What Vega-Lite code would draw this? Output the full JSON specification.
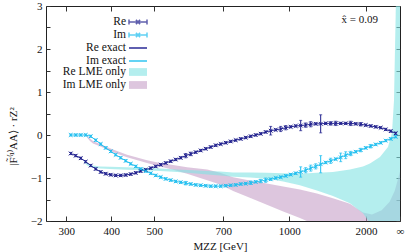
{
  "$schema": "https://vega.github.io/schema/vega-lite/v6.json",
  "width": 354,
  "height": 215,
  "autosize": "none",
  "padding": {"left": 46, "top": 6, "right": 7, "bottom": 31},
  "config": {
    "font": "Liberation Serif",
    "view": {"stroke": "#222", "strokeWidth": 1},
    "text": {"font": "Liberation Serif"},
    "axis": {"domain": false, "grid": false, "tickColor": "#333", "tickWidth": 1, "labelColor": "#111", "labelFont": "Liberation Serif", "titleFont": "Liberation Serif", "labelFontSize": 11, "titleFontSize": 11, "titleColor": "#111", "titleFontWeight": "normal", "labelFlush": false, "labelOverlap": false},
    "legend": {"labelFont": "Liberation Serif", "titleFont": "Liberation Serif", "labelFontSize": 11.5, "labelColor": "#111", "padding": 0, "rowPadding": -1.5, "symbolSize": 144, "labelAlign": "right", "labelOffset": -19, "orient": "none"}
  },
  "datasets": {
    "pts": [
      {"s":"Re","t":"Re exact","u":0.0132,"v":-0.43,"e":0.025},{"s":"Re","t":"Re exact","u":0.0282,"v":-0.48,"e":0.025},{"s":"Re","t":"Re exact","u":0.0432,"v":-0.54,"e":0.025},{"s":"Re","t":"Re exact","u":0.0581,"v":-0.62,"e":0.025},{"s":"Re","t":"Re exact","u":0.0731,"v":-0.71,"e":0.025},{"s":"Re","t":"Re exact","u":0.0881,"v":-0.79,"e":0.025},{"s":"Re","t":"Re exact","u":0.1031,"v":-0.86,"e":0.025},{"s":"Re","t":"Re exact","u":0.1181,"v":-0.9,"e":0.025},{"s":"Re","t":"Re exact","u":0.1331,"v":-0.925,"e":0.025},{"s":"Re","t":"Re exact","u":0.148,"v":-0.94,"e":0.025},
      {"s":"Re","t":"Re exact","u":0.163,"v":-0.94,"e":0.025},{"s":"Re","t":"Re exact","u":0.178,"v":-0.93,"e":0.025},{"s":"Re","t":"Re exact","u":0.193,"v":-0.91,"e":0.025},{"s":"Re","t":"Re exact","u":0.208,"v":-0.88,"e":0.025},{"s":"Re","t":"Re exact","u":0.2229,"v":-0.84,"e":0.025},{"s":"Re","t":"Re exact","u":0.2379,"v":-0.81,"e":0.025},{"s":"Re","t":"Re exact","u":0.2529,"v":-0.77,"e":0.025},{"s":"Re","t":"Re exact","u":0.2679,"v":-0.73,"e":0.025},{"s":"Re","t":"Re exact","u":0.2829,"v":-0.69,"e":0.025},{"s":"Re","t":"Re exact","u":0.2979,"v":-0.65,"e":0.025},
      {"s":"Re","t":"Re exact","u":0.3128,"v":-0.61,"e":0.025},{"s":"Re","t":"Re exact","u":0.3278,"v":-0.57,"e":0.025},{"s":"Re","t":"Re exact","u":0.3428,"v":-0.53,"e":0.025},{"s":"Re","t":"Re exact","u":0.3578,"v":-0.48,"e":0.05},{"s":"Re","t":"Re exact","u":0.3728,"v":-0.44,"e":0.04},{"s":"Re","t":"Re exact","u":0.3878,"v":-0.4,"e":0.025},{"s":"Re","t":"Re exact","u":0.4027,"v":-0.36,"e":0.025},{"s":"Re","t":"Re exact","u":0.4177,"v":-0.32,"e":0.025},{"s":"Re","t":"Re exact","u":0.4327,"v":-0.28,"e":0.025},{"s":"Re","t":"Re exact","u":0.4477,"v":-0.24,"e":0.025},
      {"s":"Re","t":"Re exact","u":0.4627,"v":-0.21,"e":0.025},{"s":"Re","t":"Re exact","u":0.4777,"v":-0.18,"e":0.025},{"s":"Re","t":"Re exact","u":0.4926,"v":-0.15,"e":0.025},{"s":"Re","t":"Re exact","u":0.5076,"v":-0.12,"e":0.025},{"s":"Re","t":"Re exact","u":0.5226,"v":-0.09,"e":0.025},{"s":"Re","t":"Re exact","u":0.5376,"v":-0.06,"e":0.025},{"s":"Re","t":"Re exact","u":0.5526,"v":-0.03,"e":0.025},{"s":"Re","t":"Re exact","u":0.5676,"v":0.0,"e":0.025},{"s":"Re","t":"Re exact","u":0.5825,"v":0.03,"e":0.025},{"s":"Re","t":"Re exact","u":0.5975,"v":0.07,"e":0.025},
      {"s":"Re","t":"Re exact","u":0.6125,"v":0.1,"e":0.1},{"s":"Re","t":"Re exact","u":0.6275,"v":0.12,"e":0.025},{"s":"Re","t":"Re exact","u":0.6425,"v":0.14,"e":0.06},{"s":"Re","t":"Re exact","u":0.6575,"v":0.17,"e":0.05},{"s":"Re","t":"Re exact","u":0.6724,"v":0.19,"e":0.025},{"s":"Re","t":"Re exact","u":0.6874,"v":0.21,"e":0.025},{"s":"Re","t":"Re exact","u":0.7024,"v":0.22,"e":0.12},{"s":"Re","t":"Re exact","u":0.7174,"v":0.23,"e":0.05},{"s":"Re","t":"Re exact","u":0.7324,"v":0.25,"e":0.06},{"s":"Re","t":"Re exact","u":0.7474,"v":0.26,"e":0.025},
      {"s":"Re","t":"Re exact","u":0.7623,"v":0.26,"e":0.21},{"s":"Re","t":"Re exact","u":0.7773,"v":0.27,"e":0.025},{"s":"Re","t":"Re exact","u":0.7923,"v":0.27,"e":0.04},{"s":"Re","t":"Re exact","u":0.8073,"v":0.27,"e":0.05},{"s":"Re","t":"Re exact","u":0.8223,"v":0.27,"e":0.025},{"s":"Re","t":"Re exact","u":0.8373,"v":0.27,"e":0.025},{"s":"Re","t":"Re exact","u":0.8522,"v":0.27,"e":0.05},{"s":"Re","t":"Re exact","u":0.8672,"v":0.26,"e":0.025},{"s":"Re","t":"Re exact","u":0.8822,"v":0.25,"e":0.04},{"s":"Re","t":"Re exact","u":0.8972,"v":0.23,"e":0.025},
      {"s":"Re","t":"Re exact","u":0.9122,"v":0.21,"e":0.025},{"s":"Re","t":"Re exact","u":0.9272,"v":0.19,"e":0.025},{"s":"Re","t":"Re exact","u":0.9421,"v":0.17,"e":0.025},{"s":"Re","t":"Re exact","u":0.9571,"v":0.13,"e":0.025},{"s":"Re","t":"Re exact","u":0.9721,"v":0.09,"e":0.025},{"s":"Re","t":"Re exact","u":0.9871,"v":0.04,"e":0.025},
      {"s":"Im","t":"Im exact","u":0.0132,"v":0.0,"e":0.025},{"s":"Im","t":"Im exact","u":0.0282,"v":0.0,"e":0.025},{"s":"Im","t":"Im exact","u":0.0432,"v":0.0,"e":0.025},{"s":"Im","t":"Im exact","u":0.0581,"v":0.0,"e":0.025},{"s":"Im","t":"Im exact","u":0.0731,"v":-0.03,"e":0.025},{"s":"Im","t":"Im exact","u":0.0881,"v":-0.12,"e":0.025},{"s":"Im","t":"Im exact","u":0.1031,"v":-0.21,"e":0.025},{"s":"Im","t":"Im exact","u":0.1181,"v":-0.3,"e":0.025},{"s":"Im","t":"Im exact","u":0.1331,"v":-0.38,"e":0.025},{"s":"Im","t":"Im exact","u":0.148,"v":-0.46,"e":0.025},
      {"s":"Im","t":"Im exact","u":0.163,"v":-0.53,"e":0.025},{"s":"Im","t":"Im exact","u":0.178,"v":-0.6,"e":0.025},{"s":"Im","t":"Im exact","u":0.193,"v":-0.67,"e":0.025},{"s":"Im","t":"Im exact","u":0.208,"v":-0.73,"e":0.025},{"s":"Im","t":"Im exact","u":0.2229,"v":-0.79,"e":0.025},{"s":"Im","t":"Im exact","u":0.2379,"v":-0.84,"e":0.025},{"s":"Im","t":"Im exact","u":0.2529,"v":-0.89,"e":0.025},{"s":"Im","t":"Im exact","u":0.2679,"v":-0.94,"e":0.025},{"s":"Im","t":"Im exact","u":0.2829,"v":-0.98,"e":0.025},{"s":"Im","t":"Im exact","u":0.2979,"v":-1.02,"e":0.025},
      {"s":"Im","t":"Im exact","u":0.3128,"v":-1.05,"e":0.025},{"s":"Im","t":"Im exact","u":0.3278,"v":-1.08,"e":0.025},{"s":"Im","t":"Im exact","u":0.3428,"v":-1.1,"e":0.025},{"s":"Im","t":"Im exact","u":0.3578,"v":-1.12,"e":0.04},{"s":"Im","t":"Im exact","u":0.3728,"v":-1.14,"e":0.025},{"s":"Im","t":"Im exact","u":0.3878,"v":-1.16,"e":0.025},{"s":"Im","t":"Im exact","u":0.4027,"v":-1.17,"e":0.025},{"s":"Im","t":"Im exact","u":0.4177,"v":-1.18,"e":0.025},{"s":"Im","t":"Im exact","u":0.4327,"v":-1.19,"e":0.025},{"s":"Im","t":"Im exact","u":0.4477,"v":-1.19,"e":0.025},
      {"s":"Im","t":"Im exact","u":0.4627,"v":-1.19,"e":0.025},{"s":"Im","t":"Im exact","u":0.4777,"v":-1.18,"e":0.025},{"s":"Im","t":"Im exact","u":0.4926,"v":-1.17,"e":0.025},{"s":"Im","t":"Im exact","u":0.5076,"v":-1.16,"e":0.025},{"s":"Im","t":"Im exact","u":0.5226,"v":-1.14,"e":0.025},{"s":"Im","t":"Im exact","u":0.5376,"v":-1.13,"e":0.025},{"s":"Im","t":"Im exact","u":0.5526,"v":-1.11,"e":0.04},{"s":"Im","t":"Im exact","u":0.5676,"v":-1.09,"e":0.025},{"s":"Im","t":"Im exact","u":0.5825,"v":-1.07,"e":0.04},{"s":"Im","t":"Im exact","u":0.5975,"v":-1.05,"e":0.05},
      {"s":"Im","t":"Im exact","u":0.6125,"v":-1.03,"e":0.025},{"s":"Im","t":"Im exact","u":0.6275,"v":-1.0,"e":0.025},{"s":"Im","t":"Im exact","u":0.6425,"v":-0.98,"e":0.025},{"s":"Im","t":"Im exact","u":0.6575,"v":-0.95,"e":0.025},{"s":"Im","t":"Im exact","u":0.6724,"v":-0.92,"e":0.025},{"s":"Im","t":"Im exact","u":0.6874,"v":-0.89,"e":0.025},{"s":"Im","t":"Im exact","u":0.7024,"v":-0.86,"e":0.12},{"s":"Im","t":"Im exact","u":0.7174,"v":-0.82,"e":0.06},{"s":"Im","t":"Im exact","u":0.7324,"v":-0.77,"e":0.07},{"s":"Im","t":"Im exact","u":0.7474,"v":-0.73,"e":0.06},
      {"s":"Im","t":"Im exact","u":0.7623,"v":-0.68,"e":0.2},{"s":"Im","t":"Im exact","u":0.7773,"v":-0.64,"e":0.025},{"s":"Im","t":"Im exact","u":0.7923,"v":-0.6,"e":0.06},{"s":"Im","t":"Im exact","u":0.8073,"v":-0.56,"e":0.025},{"s":"Im","t":"Im exact","u":0.8223,"v":-0.52,"e":0.1},{"s":"Im","t":"Im exact","u":0.8373,"v":-0.47,"e":0.08},{"s":"Im","t":"Im exact","u":0.8522,"v":-0.43,"e":0.05},{"s":"Im","t":"Im exact","u":0.8672,"v":-0.39,"e":0.025},{"s":"Im","t":"Im exact","u":0.8822,"v":-0.35,"e":0.04},{"s":"Im","t":"Im exact","u":0.8972,"v":-0.3,"e":0.025},
      {"s":"Im","t":"Im exact","u":0.9122,"v":-0.26,"e":0.04},{"s":"Im","t":"Im exact","u":0.9272,"v":-0.22,"e":0.025},{"s":"Im","t":"Im exact","u":0.9421,"v":-0.18,"e":0.025},{"s":"Im","t":"Im exact","u":0.9571,"v":-0.13,"e":0.025},{"s":"Im","t":"Im exact","u":0.9721,"v":-0.09,"e":0.025},{"s":"Im","t":"Im exact","u":0.9871,"v":-0.04,"e":0.025}
    ],
    "reband": [
      {"s":"Re LME only","u":0.053,"hi":-0.6,"lo":-0.64},{"s":"Re LME only","u":0.065,"hi":-0.66,"lo":-0.72},{"s":"Re LME only","u":0.08,"hi":-0.71,"lo":-0.76},{"s":"Re LME only","u":0.101,"hi":-0.73,"lo":-0.78},{"s":"Re LME only","u":0.131,"hi":-0.74,"lo":-0.79},{"s":"Re LME only","u":0.182,"hi":-0.75,"lo":-0.81},{"s":"Re LME only","u":0.23,"hi":-0.76,"lo":-0.82},{"s":"Re LME only","u":0.281,"hi":-0.78,"lo":-0.84},{"s":"Re LME only","u":0.332,"hi":-0.8,"lo":-0.86},{"s":"Re LME only","u":0.38,"hi":-0.82,"lo":-0.89},
      {"s":"Re LME only","u":0.422,"hi":-0.84,"lo":-0.92},{"s":"Re LME only","u":0.461,"hi":-0.85,"lo":-0.94},{"s":"Re LME only","u":0.5,"hi":-0.87,"lo":-0.97},{"s":"Re LME only","u":0.55,"hi":-0.87,"lo":-0.99},{"s":"Re LME only","u":0.601,"hi":-0.88,"lo":-1.02},{"s":"Re LME only","u":0.65,"hi":-0.89,"lo":-1.08},{"s":"Re LME only","u":0.7,"hi":-0.9,"lo":-1.17},{"s":"Re LME only","u":0.751,"hi":-0.88,"lo":-1.29},{"s":"Re LME only","u":0.799,"hi":-0.86,"lo":-1.42},{"s":"Re LME only","u":0.85,"hi":-0.8,"lo":-1.59},
      {"s":"Re LME only","u":0.889,"hi":-0.73,"lo":-1.82},{"s":"Re LME only","u":0.91,"hi":-0.66,"lo":-2.05},{"s":"Re LME only","u":0.94,"hi":-0.51,"lo":-2.6},{"s":"Re LME only","u":0.964,"hi":-0.28,"lo":-2.6},{"s":"Re LME only","u":0.976,"hi":0.05,"lo":-2.6},{"s":"Re LME only","u":0.982,"hi":0.8,"lo":-2.6},{"s":"Re LME only","u":0.988,"hi":3.2,"lo":-2.6},{"s":"Re LME only","u":1.0,"hi":3.2,"lo":-2.6}
    ],
    "imband": [
      {"s":"Im LME only","u":0.062,"hi":-0.01,"lo":-0.05},{"s":"Im LME only","u":0.071,"hi":-0.08,"lo":-0.14},{"s":"Im LME only","u":0.08,"hi":-0.14,"lo":-0.2},{"s":"Im LME only","u":0.101,"hi":-0.21,"lo":-0.26},{"s":"Im LME only","u":0.14,"hi":-0.34,"lo":-0.4},{"s":"Im LME only","u":0.182,"hi":-0.46,"lo":-0.52},{"s":"Im LME only","u":0.242,"hi":-0.59,"lo":-0.65},{"s":"Im LME only","u":0.281,"hi":-0.65,"lo":-0.73},{"s":"Im LME only","u":0.32,"hi":-0.7,"lo":-0.81},{"s":"Im LME only","u":0.362,"hi":-0.75,"lo":-0.9},
      {"s":"Im LME only","u":0.422,"hi":-0.8,"lo":-1.05},{"s":"Im LME only","u":0.461,"hi":-0.88,"lo":-1.15},{"s":"Im LME only","u":0.5,"hi":-0.98,"lo":-1.3},{"s":"Im LME only","u":0.55,"hi":-1.06,"lo":-1.46},{"s":"Im LME only","u":0.601,"hi":-1.13,"lo":-1.62},{"s":"Im LME only","u":0.65,"hi":-1.2,"lo":-1.78},{"s":"Im LME only","u":0.7,"hi":-1.27,"lo":-1.93},{"s":"Im LME only","u":0.751,"hi":-1.36,"lo":-2.1},{"s":"Im LME only","u":0.799,"hi":-1.47,"lo":-2.3},{"s":"Im LME only","u":0.85,"hi":-1.6,"lo":-2.5},
      {"s":"Im LME only","u":0.889,"hi":-1.8,"lo":-2.6},{"s":"Im LME only","u":0.916,"hi":-1.85,"lo":-2.6},{"s":"Im LME only","u":0.945,"hi":-1.75,"lo":-2.6},{"s":"Im LME only","u":0.969,"hi":-1.55,"lo":-2.6},{"s":"Im LME only","u":0.984,"hi":-1.3,"lo":-2.6},{"s":"Im LME only","u":0.993,"hi":-1.05,"lo":-2.6},{"s":"Im LME only","u":1.0,"hi":-0.85,"lo":-2.6}
    ]
  },
  "resolve": {"axis": {"x": "independent", "y": "independent"}},
  "layer": [
    {
      "data": {"name": "imband"},
      "mark": {"type": "area", "opacity": 0.6, "clip": true},
      "encoding": {
        "x": {"field": "u", "type": "quantitative", "scale": {"domain": [-0.0608, 1.0], "nice": false, "zero": false},
          "axis": {"orient": "bottom", "values": [0, 0.1349, 0.2637, 0.4705, 0.6683, 0.898, 1],
            "labelExpr": "datum.value < 0.05 ? '300' : datum.value < 0.2 ? '400' : datum.value < 0.3 ? '500' : datum.value < 0.55 ? '700' : datum.value < 0.75 ? '1000' : datum.value < 0.95 ? '2000' : '∞'",
            "tickSize": -5, "labelPadding": 9, "title": "MZZ [GeV]", "titleX": 174, "titleY": 28, "titleBaseline": "alphabetic", "titleAlign": "center"}},
        "y": {"field": "hi", "type": "quantitative", "scale": {"domain": [-2, 3], "nice": false, "zero": false},
          "axis": {"orient": "left", "values": [-2, -1.5, -1, -0.5, 0, 0.5, 1, 1.5, 2, 2.5, 3],
            "labelExpr": "datum.value % 1 === 0 ? format(datum.value, 'd') : ''", "tickSize": -4, "labelPadding": 8,
            "title": "|F̃⁽¹⁾AA⟩ · rZ²", "titleX": -33, "titleY": 130, "titleAngle": -90, "titleBaseline": "middle", "titleAlign": "center"}},
        "y2": {"field": "lo"},
        "fill": {"field": "s", "type": "nominal",
          "scale": {"domain": ["Re LME only", "Im LME only"], "range": ["#82e3e3", "#c6a0c8"]},
          "legend": {"orient": "none", "legendX": 85, "legendY": 59, "title": null, "symbolType": "M-1.5,-0.65H1.5V0.65H-1.5Z"}}
      }
    },
    {
      "data": {"name": "reband"},
      "mark": {"type": "area", "opacity": 0.6, "clip": true},
      "encoding": {
        "x": {"field": "u", "type": "quantitative", "axis": null},
        "y": {"field": "hi", "type": "quantitative", "axis": null},
        "y2": {"field": "lo"},
        "fill": {"field": "s", "type": "nominal",
          "legend": {"orient": "none", "legendX": 85, "legendY": 59, "title": null, "symbolType": "M-1.5,-0.65H1.5V0.65H-1.5Z"}}
      }
    },
    {
      "data": {"name": "pts"},
      "mark": {"type": "line", "strokeWidth": 1},
      "encoding": {
        "x": {"field": "u", "type": "quantitative", "axis": null},
        "y": {"field": "v", "type": "quantitative", "axis": null},
        "stroke": {"field": "t", "type": "nominal",
          "scale": {"domain": ["Re exact", "Im exact"], "range": ["#2a2a96", "#30c4f0"]},
          "legend": {"orient": "none", "legendX": 85, "legendY": 35, "title": null, "symbolType": "M-1.5,0H1.5"}}
      }
    },
    {
      "data": {"name": "pts"},
      "mark": {"type": "errorbar", "ticks": {"size": 3}},
      "encoding": {
        "x": {"field": "u", "type": "quantitative", "axis": null},
        "y": {"field": "v", "type": "quantitative", "axis": null},
        "yError": {"field": "e"},
        "color": {"field": "s", "type": "nominal",
          "legend": {"orient": "none", "legendX": 85, "legendY": 9, "title": null, "symbolType": "M-1.5,0H1.5M-1.5,-0.4V0.4M1.5,-0.4V0.4M-0.35,-0.35L0.35,0.35M-0.35,0.35L0.35,-0.35"}}
      }
    },
    {
      "data": {"name": "pts"},
      "mark": {"type": "point", "shape": "M-1,-1L1,1M-1,1L1,-1", "filled": false, "size": 14, "strokeWidth": 1, "opacity": 1},
      "encoding": {
        "x": {"field": "u", "type": "quantitative", "axis": null},
        "y": {"field": "v", "type": "quantitative", "axis": null},
        "color": {"field": "s", "type": "nominal",
          "scale": {"domain": ["Re", "Im"], "range": ["#1e1e8c", "#1ebef0"]},
          "legend": {"orient": "none", "legendX": 85, "legendY": 9, "title": null, "symbolType": "M-1.5,0H1.5M-1.5,-0.4V0.4M1.5,-0.4V0.4M-0.35,-0.35L0.35,0.35M-0.35,0.35L0.35,-0.35"}}
      }
    },
    {
      "data": {"values": [{"note": "x̂ = 0.09"}]},
      "mark": {"type": "text", "align": "right", "baseline": "middle", "fontSize": 11, "color": "#111", "font": "Liberation Serif"},
      "encoding": {
        "x": {"datum": 0.934, "type": "quantitative",
          "axis": {"orient": "top", "values": [0, 0.1349, 0.2637, 0.4705, 0.6683, 0.898], "labels": false, "title": null, "tickSize": -5}},
        "y": {"datum": 2.68, "type": "quantitative",
          "axis": {"orient": "right", "values": [-2, -1.5, -1, -0.5, 0, 0.5, 1, 1.5, 2, 2.5, 3], "labels": false, "title": null, "tickSize": -4}},
        "text": {"field": "note"}
      }
    }
  ]
}
